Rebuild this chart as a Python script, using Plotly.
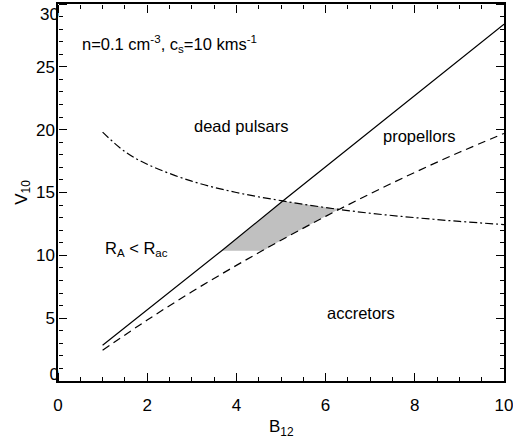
import plotly.graph_objects as go

# Data
solid_x = [1.0, 3.67, 5.04, 10.0]
solid_y = [2.84, 10.37, 14.32, 28.4]

dashed_x = [1, 2, 3, 4, 5, 6, 7, 8, 9, 10]
dashed_y = [2.45, 4.85, 7.1, 9.2, 11.2, 13.1, 14.9, 16.6, 18.2, 19.7]

dashdot_x = [1, 1.5, 2, 3, 4, 5, 6, 7, 8, 9, 10]
dashdot_y = [19.8, 18.25, 17.25, 15.9, 15.0, 14.35, 13.8, 13.35, 13.0, 12.7, 12.45]

shade_x = [3.67, 4.60, 5.0, 6.0, 6.31, 6.0, 5.5, 5.04, 3.67]
shade_y = [10.37, 10.37, 11.2, 13.1, 13.71, 13.8, 14.05, 14.32, 10.37]

labels = ["n=0.1 cm<sup>-3</sup>, c<sub>s</sub>=10 kms<sup>-1</sup>",
          "dead pulsars", "propellors", "R<sub>A</sub> &lt; R<sub>ac</sub>", "accretors"]
label_x = [0.49, 4.11, 8.1, 1.77, 6.8]
label_y = [26.8, 20.3, 19.5, 10.5, 5.4]
label_anchor = ["left", "center", "center", "center", "center"]

x_ticks = [0, 2, 4, 6, 8, 10]
y_ticks_mid = [5, 10, 15, 20, 25]
y_tick_bottom = [0]
y_tick_top = [30]

x_title = "B<sub>12</sub>"
y_title = "V<sub>10</sub>"

X_RANGE = [0, 10]
Y_RANGE = [0, 30]
FONT = "Liberation Sans"
TFONT = dict(family=FONT, size=17, color="black")

fig = go.Figure()
fig.add_trace(go.Scatter(x=shade_x, y=shade_y, fill="toself", fillcolor="#c0c0c0",
                         mode="lines", line=dict(width=0, color="#c0c0c0"),
                         hoverinfo="skip", showlegend=False))
fig.add_trace(go.Scatter(x=solid_x, y=solid_y, mode="lines",
                         line=dict(color="black", width=1.2), showlegend=False))
fig.add_trace(go.Scatter(x=dashed_x, y=dashed_y, mode="lines",
                         line=dict(color="black", width=1.2, dash="8px,5px", shape="spline"),
                         showlegend=False))
fig.add_trace(go.Scatter(x=dashdot_x, y=dashdot_y, mode="lines",
                         line=dict(color="black", width=1.2, dash="8px,3px,2px,3px", shape="spline"),
                         showlegend=False))
# invisible helper traces so the overlay tick axes are drawn
fig.add_trace(go.Scatter(x=[None], y=[None], xaxis="x2", yaxis="y2", mode="markers",
                         showlegend=False, hoverinfo="skip"))
fig.add_trace(go.Scatter(x=[None], y=[None], xaxis="x3", yaxis="y3", mode="markers",
                         showlegend=False, hoverinfo="skip"))
fig.add_trace(go.Scatter(x=[None], y=[None], xaxis="x", yaxis="y4", mode="markers",
                         showlegend=False, hoverinfo="skip"))
fig.add_trace(go.Scatter(x=[None], y=[None], xaxis="x", yaxis="y5", mode="markers",
                         showlegend=False, hoverinfo="skip"))

for t, x, y, a in zip(labels, label_x, label_y, label_anchor):
    fig.add_annotation(x=x, y=y, xref="x", yref="y", text=t, showarrow=False,
                       xanchor=a, yanchor="middle",
                       font=dict(family=FONT, size=16.5, color="black"))

# axis titles
fig.add_annotation(x=0.5, y=-0.125, xref="paper", yref="paper", text=x_title,
                   showarrow=False, xanchor="center", yanchor="middle", font=TFONT)
fig.add_annotation(x=-0.08, y=0.5, xref="paper", yref="paper", text=y_title,
                   showarrow=False, xanchor="center", yanchor="middle", textangle=-90,
                   font=TFONT)

base = dict(showgrid=False, zeroline=False, automargin=False)
tick_major = dict(ticks="outside", ticklen=8, tickwidth=1, tickcolor="black")

fig.update_layout(
    # main axes: frame + labels
    xaxis=dict(range=X_RANGE, tickmode="array", tickvals=x_ticks, ticks="",
               showline=True, linecolor="black", linewidth=1.5, mirror=True,
               tickfont=TFONT, ticklabelstandoff=8, ticklabeloverflow="allow", **base),
    yaxis=dict(range=Y_RANGE, tickmode="array", tickvals=y_ticks_mid, ticks="",
               showline=True, linecolor="black", linewidth=1.5, mirror=True,
               tickfont=TFONT, ticklabelstandoff=-2, ticklabeloverflow="allow", **base),
    # bottom ticks pointing up
    xaxis2=dict(range=X_RANGE, overlaying="x", side="top", anchor="free", position=0,
                tickmode="linear", tick0=0, dtick=2, showticklabels=False, showline=False,
                minor=dict(tick0=0, dtick=0.5, ticks="outside", ticklen=4, tickwidth=1,
                           tickcolor="black", showgrid=False),
                **tick_major, **base),
    # top ticks pointing down
    xaxis3=dict(range=X_RANGE, overlaying="x", side="bottom", anchor="free", position=1,
                tickmode="linear", tick0=0, dtick=2, showticklabels=False, showline=False,
                minor=dict(tick0=0, dtick=0.5, ticks="outside", ticklen=4, tickwidth=1,
                           tickcolor="black", showgrid=False),
                **tick_major, **base),
    # left ticks pointing right
    yaxis2=dict(range=Y_RANGE, overlaying="y", side="right", anchor="free", position=0,
                tickmode="linear", tick0=0, dtick=5, showticklabels=False, showline=False,
                minor=dict(tick0=0, dtick=1, ticks="outside", ticklen=4, tickwidth=1,
                           tickcolor="black", showgrid=False),
                **tick_major, **base),
    # right ticks pointing left
    yaxis3=dict(range=Y_RANGE, overlaying="y", side="left", anchor="free", position=1,
                tickmode="linear", tick0=0, dtick=5, showticklabels=False, showline=False,
                minor=dict(tick0=0, dtick=1, ticks="outside", ticklen=4, tickwidth=1,
                           tickcolor="black", showgrid=False),
                **tick_major, **base),
    # end labels nudged inward as in the reference
    yaxis4=dict(range=Y_RANGE, overlaying="y", side="left", anchor="x",
                tickmode="array", tickvals=y_tick_top, ticks="", showline=False,
                tickfont=TFONT, ticklabelstandoff=-2, ticklabelshift=10,
                ticklabeloverflow="allow", **base),
    yaxis5=dict(range=Y_RANGE, overlaying="y", side="left", anchor="x",
                tickmode="array", tickvals=y_tick_bottom, ticks="", showline=False,
                tickfont=TFONT, ticklabelstandoff=-2, ticklabelshift=-7,
                ticklabeloverflow="allow", **base),
)

fig.update_layout(width=513, height=444, margin=dict(l=58, r=9, t=4, b=63),
                  plot_bgcolor="white", paper_bgcolor="white",
                  font=dict(family=FONT, color="black"))

fig.write_html("out.html", config={"displayModeBar": False},
               post_script="document.body.style.margin='0';document.body.style.padding='0';")
